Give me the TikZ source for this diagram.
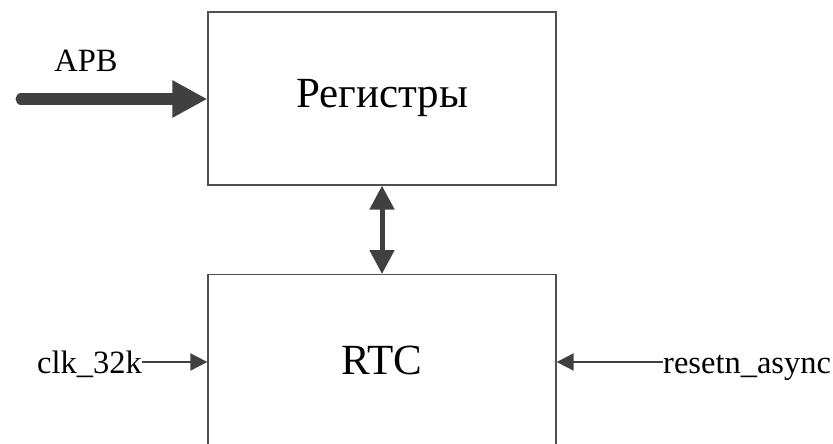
\documentclass[tikz,border=0pt]{standalone}
\usepackage{fontspec}
\setmainfont{Liberation Serif}
\usetikzlibrary{arrows.meta}
\definecolor{arr}{HTML}{404040}
\definecolor{boxc}{HTML}{505050}
\tikzset{
  blockbox/.style={draw=boxc, line width=1.3pt, rectangle, minimum width=348pt, inner sep=0pt},
  biglbl/.style={font=\fontsize{43}{50}\selectfont, inner sep=0pt},
  smalllbl/.style={font=\fontsize{32.5}{38}\selectfont, inner sep=0pt, text height=22pt, text depth=0pt},
  fatarrow/.style={draw=arr, line width=11pt, line cap=round, -{Triangle[length=35pt,width=35pt]}, fill=arr},
  busarrow/.style={draw=arr, line width=5pt, {Triangle[length=24pt,width=24pt]}-{Triangle[length=24pt,width=24pt]}},
  sigarrow/.style={draw=arr, line width=2pt, -{Triangle[length=17pt,width=17pt]}}
}
\begin{document}
\begin{tikzpicture}[x=1pt,y=-1pt]
\useasboundingbox (0,0) rectangle (833,444);
\clip (0,0) rectangle (833,444);
\node[blockbox, minimum height=173pt] (reg) at (382,98.5) {};
\node[biglbl] (regtxt) at (382,98) {Регистры};
\node[blockbox, minimum height=220pt, anchor=north] (rtc) at (382,274) {};
\node[biglbl] (rtctxt) at (382,360) {RTC};
\coordinate (apbstart) at (21,99);
\draw[fatarrow] (apbstart) -- (apbstart -| reg.west);
\node[smalllbl, anchor=base] (apb) at (86,72) {APB};
\draw[busarrow] (reg.south) -- (rtc.north);
\node[smalllbl, anchor=base east] (clk) at (142,373) {clk\_32k};
\draw[sigarrow] (clk.east) -- (clk.east -| rtc.west);
\node[smalllbl, anchor=base west] (rst) at (663,373) {resetn\_async};
\draw[sigarrow] (rst.west) -- (rst.west -| rtc.east);
\end{tikzpicture}
\end{document}
